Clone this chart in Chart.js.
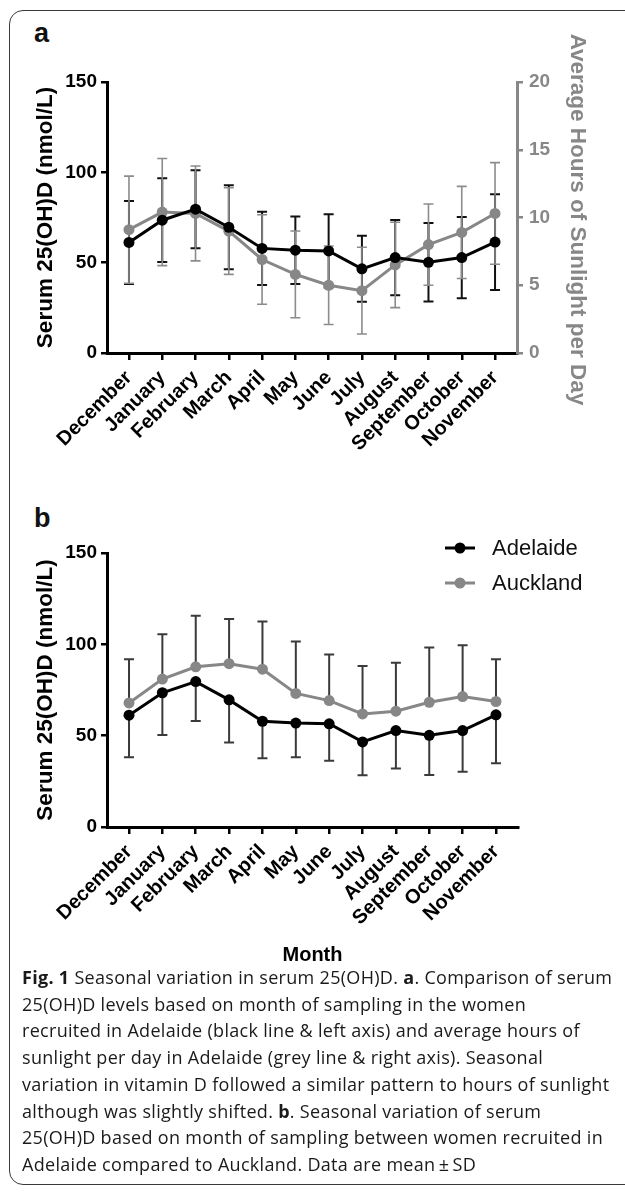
<!DOCTYPE html>
<html><head><meta charset="utf-8">
<script src="https://cdn.jsdelivr.net/npm/chart.js@4.4.1/dist/chart.umd.min.js"></script>
<style>
html,body{margin:0;padding:0;background:#fff;}
body{width:625px;height:1194px;position:relative;overflow:hidden;}
#frame{position:absolute;left:9px;top:10px;width:660px;height:1175px;border:1.5px solid #3a3a3a;border-radius:14px;box-sizing:border-box;}
canvas{position:absolute;left:0;}
#ca{top:0;}
#cb{top:470px;}
.plab{position:absolute;font-family:"Liberation Sans",Arial,sans-serif;font-weight:bold;font-size:27px;line-height:27px;color:#111;}
#caption{position:absolute;left:22px;top:964px;font-family:"Open Sans",sans-serif;font-size:18px;letter-spacing:0.3px;line-height:26.7px;color:#1a1a1a;white-space:nowrap;}
#caption b{font-weight:bold;}
</style></head>
<body>
<div id="frame"></div>
<div class="plab" style="left:34px;top:20px">a</div>
<div class="plab" style="left:34px;top:505px">b</div>
<canvas id="ca" width="625" height="470" style="width:625px;height:470px"></canvas>
<canvas id="cb" width="625" height="500" style="width:625px;height:500px"></canvas>
<div id="caption"><b>Fig. 1</b> Seasonal variation in serum 25(OH)D. <b>a</b>. Comparison of serum<br>25(OH)D levels based on month of sampling in the women<br>recruited in Adelaide (black line &amp; left axis) and average hours of<br>sunlight per day in Adelaide (grey line &amp; right axis). Seasonal<br>variation in vitamin D followed a similar pattern to hours of sunlight<br>although was slightly shifted. <b>b</b>. Seasonal variation of serum<br>25(OH)D based on month of sampling between women recruited in<br>Adelaide compared to Auckland. Data are mean&thinsp;±&thinsp;SD</div>
<script>
// ---- data ----
const months = ["December","January","February","March","April","May","June","July","August","September","October","November"];
const adelaideMean = [61.2, 73.5, 79.6, 69.6, 57.9, 56.9, 56.5, 46.6, 52.8, 50.2, 52.8, 61.4];
const adelaideSD   = [23.0, 23.2, 21.6, 23.3, 20.3, 18.7, 20.3, 18.3, 20.8, 21.7, 22.5, 26.5];
const sunMean      = [9.1, 10.4, 10.3, 9.0, 6.9, 5.8, 5.0, 4.6, 6.5, 8.0, 8.9, 10.3];
const sunSD        = [3.95, 3.95, 3.5, 3.2, 3.3, 3.2, 2.9, 3.2, 3.15, 3.0, 3.4, 3.75];
const aucklandMean = [67.9, 81.0, 87.7, 89.4, 86.4, 73.1, 69.2, 61.9, 63.4, 68.3, 71.4, 68.7];
const aucklandSD   = [24.0, 24.5, 27.9, 24.5, 26.1, 28.4, 25.3, 26.2, 26.5, 29.9, 28.1, 23.2];
const serumTicks = [0, 50, 100, 150];
const sunTicks = [0, 5, 10, 15, 20];

const BLACK = '#000000';
const GREY = '#878787';
const FONT = '"Liberation Sans", Arial, Helvetica, sans-serif';
Chart.defaults.font.family = FONT;
Chart.defaults.animation = false;

const pts = arr => arr.map((v, i) => ({x: i, y: v}));

const errorBars = {
  id: 'errorBars',
  beforeDatasetsDraw(chart) {
    const ctx = chart.ctx;
    chart.data.datasets.forEach((ds, di) => {
      if (!ds.errors) return;
      const meta = chart.getDatasetMeta(di);
      const xs = chart.scales[meta.xAxisID], ys = chart.scales[meta.yAxisID];
      ctx.save();
      ctx.strokeStyle = ds.errorColor;
      ctx.lineWidth = ds.errorWidth;
      ctx.lineCap = 'butt';
      ds.data.forEach((p, i) => {
        const sd = ds.errors[i];
        const x = xs.getPixelForValue(p.x);
        const yc = ys.getPixelForValue(p.y);
        const yt = ys.getPixelForValue(p.y + sd);
        const yb = ys.getPixelForValue(p.y - sd);
        const cw = 5;
        ctx.beginPath();
        if (ds.errorDir !== 'down') {
          ctx.moveTo(x, yc); ctx.lineTo(x, yt);
          ctx.moveTo(x - cw, yt); ctx.lineTo(x + cw, yt);
        }
        if (ds.errorDir !== 'up') {
          ctx.moveTo(x, yc); ctx.lineTo(x, yb);
          ctx.moveTo(x - cw, yb); ctx.lineTo(x + cw, yb);
        }
        ctx.stroke();
      });
      ctx.restore();
    });
  }
};

function xScale(extra) {
  return Object.assign({
    type: 'linear', min: -0.66, max: 11.66,
    afterBuildTicks: s => { s.ticks = months.map((m, i) => ({value: i})); },
    ticks: {autoSkip: false, minRotation: 45, maxRotation: 45, padding: 6,
      color: BLACK, font: {size: 20, weight: 'bold'},
      callback: v => months[v]},
    grid: {drawOnChartArea: false, drawTicks: true, tickLength: 7, color: BLACK, lineWidth: 2.5},
    border: {display: true, color: BLACK, width: 3}
  }, extra);
}
function yScale(ticksArr, max, color, pos, width, title) {
  return {
    type: 'linear', position: pos, min: 0, max: max,
    afterBuildTicks: s => { s.ticks = ticksArr.map(v => ({value: v})); },
    afterFit: s => { s.width = width; },
    ticks: {color: color, font: {size: 19, weight: 'bold'}, padding: pos === 'left' ? 4 : 6},
    grid: {drawOnChartArea: false, drawTicks: true, tickLength: 6, color: color, lineWidth: 2.5},
    border: {display: true, color: color, width: 3},
    title: title
  };
}
const leftTitle = {display: true, text: 'Serum 25(OH)D (nmol/L)', color: BLACK,
  font: {size: 22.5, weight: 'bold'}, padding: {top: 32, bottom: 0}};

const rightTitle = {
  id: 'rightTitle',
  afterDraw(chart) {
    const ctx = chart.ctx;
    ctx.save();
    ctx.translate(577, (chart.chartArea.top + chart.chartArea.bottom) / 2 + 2);
    ctx.rotate(Math.PI / 2);
    ctx.font = 'bold 22.5px ' + FONT;
    ctx.fillStyle = GREY;
    ctx.textAlign = 'center';
    ctx.textBaseline = 'middle';
    ctx.fillText('Average Hours of Sunlight per Day', 0, 0);
    ctx.restore();
  }
};

// ---- panel a ----
new Chart(document.getElementById('ca'), {
  type: 'line',
  data: {
    datasets: [
      {label: 'Serum 25(OH)D', data: pts(adelaideMean), errors: adelaideSD, errorDir: 'both',
        errorColor: '#111', errorWidth: 2, yAxisID: 'y', xAxisID: 'x',
        borderColor: BLACK, backgroundColor: BLACK, borderWidth: 3, pointRadius: 5.5,
        pointBorderWidth: 0, pointBackgroundColor: BLACK, order: 1},
      {label: 'Sunlight', data: pts(sunMean), errors: sunSD, errorDir: 'both',
        errorColor: '#8c8c8c', errorWidth: 1.6, yAxisID: 'y2', xAxisID: 'x',
        borderColor: GREY, backgroundColor: GREY, borderWidth: 3, pointRadius: 5.5,
        pointBorderWidth: 0, pointBackgroundColor: GREY, order: 2}
    ]
  },
  options: {
    responsive: false, animation: false,
    layout: {padding: {top: 82, left: 0, right: 0, bottom: 0}},
    plugins: {legend: {display: false}, tooltip: {enabled: false}},
    scales: {
      x: xScale({afterFit: s => { s.height = 117; }}),
      y: yScale(serumTicks, 150, BLACK, 'left', 107, leftTitle),
      y2: yScale(sunTicks, 20, GREY, 'right', 108, {display: false})
    }
  },
  plugins: [errorBars, rightTitle]
});

// ---- panel b ----
const legendPlugin = {
  id: 'lineLegend',
  afterDraw(chart) {
    const ctx = chart.ctx;
    const items = [{t: 'Adelaide', c: BLACK, y: 78}, {t: 'Auckland', c: GREY, y: 113}];
    items.forEach(it => {
      ctx.save();
      ctx.strokeStyle = it.c; ctx.fillStyle = it.c; ctx.lineWidth = 3;
      ctx.beginPath(); ctx.moveTo(445, it.y); ctx.lineTo(475, it.y); ctx.stroke();
      ctx.beginPath(); ctx.arc(460, it.y, 5.5, 0, Math.PI * 2); ctx.fill();
      ctx.fillStyle = '#111';
      ctx.font = '22px ' + FONT;
      ctx.textAlign = 'left'; ctx.textBaseline = 'middle';
      ctx.fillText(it.t, 492, it.y + 1);
      ctx.restore();
    });
  }
};

new Chart(document.getElementById('cb'), {
  type: 'line',
  data: {
    datasets: [
      {label: 'Adelaide', data: pts(adelaideMean), errors: adelaideSD, errorDir: 'down',
        errorColor: '#3a3a3a', errorWidth: 2, yAxisID: 'y', xAxisID: 'x',
        borderColor: BLACK, backgroundColor: BLACK, borderWidth: 3, pointRadius: 5.5,
        pointBorderWidth: 0, pointBackgroundColor: BLACK, order: 1},
      {label: 'Auckland', data: pts(aucklandMean), errors: aucklandSD, errorDir: 'up',
        errorColor: '#3a3a3a', errorWidth: 2, yAxisID: 'y', xAxisID: 'x',
        borderColor: GREY, backgroundColor: GREY, borderWidth: 3, pointRadius: 5.5,
        pointBorderWidth: 0, pointBackgroundColor: GREY, order: 2}
    ]
  },
  options: {
    responsive: false, animation: false,
    layout: {padding: {top: 83, left: 0, right: 107, bottom: 0}},
    plugins: {legend: {display: false}, tooltip: {enabled: false}},
    scales: {
      x: xScale({afterFit: s => { s.height = 143; },
        title: {display: true, text: 'Month', color: BLACK, font: {size: 20, weight: 'bold'},
          padding: {top: 0, bottom: 3}}}),
      y: yScale(serumTicks, 150, BLACK, 'left', 107, leftTitle)
    }
  },
  plugins: [errorBars, legendPlugin]
});
</script>
</body></html>
